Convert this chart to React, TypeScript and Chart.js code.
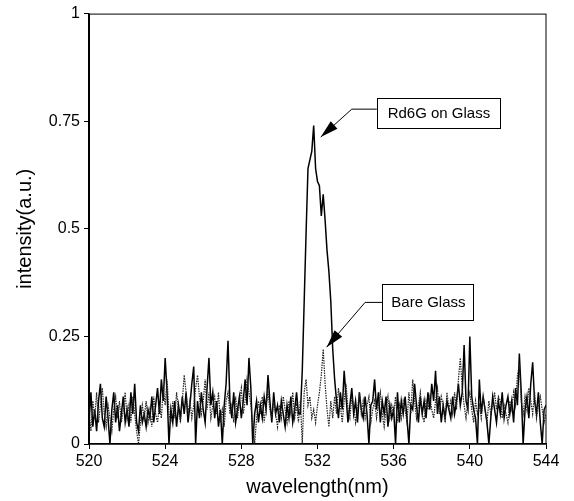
import React, { useEffect, useRef } from "react";
import { Chart, registerables } from "chart.js";

Chart.register(...registerables);

// Sampling grid of the spectra (nm)
const WL_START = 520;
const WL_STEP = 0.1;

// Rd6G on glass (solid trace), 520.0 .. 544.0 nm
const rd6gOnGlass = [
  0.05, 0.12, 0.04, 0.08, 0.03, 0.10, 0.14, 0.06, 0.04, 0.11,
  0.06, 0.00, 0.08, 0.12, 0.05, 0.09, 0.03, 0.07, 0.11, 0.05,
  0.08, 0.04, 0.12, 0.07, 0.14, 0.05, 0.03, 0.09, 0.05, 0.07,
  0.04, 0.08, 0.06, 0.11, 0.05, 0.09, 0.13, 0.07, 0.15, 0.10,
  0.20, 0.12, 0.00, 0.08, 0.05, 0.10, 0.04, 0.09, 0.06, 0.11,
  0.07, 0.12, 0.05, 0.09, 0.14, 0.18, 0.00, 0.10, 0.06, 0.12,
  0.08, 0.05, 0.13, 0.20, 0.09, 0.12, 0.06, 0.10, 0.04, 0.08,
  0.00, 0.09, 0.14, 0.24, 0.10, 0.06, 0.12, 0.05, 0.08, 0.11,
  0.06, 0.10, 0.15, 0.09, 0.20, 0.13, 0.00, 0.07, 0.10, 0.05,
  0.09, 0.06, 0.11, 0.08, 0.16, 0.10, 0.05, 0.12, 0.07, 0.09,
  0.05, 0.10, 0.07, 0.04, 0.09, 0.06, 0.11, 0.05, 0.08, 0.12,
  0.07, 0.07, 0.17, 0.33, 0.49, 0.64, 0.66, 0.68, 0.74, 0.64,
  0.61, 0.60, 0.53, 0.58, 0.52, 0.45, 0.40, 0.33, 0.22, 0.15,
  0.10, 0.06, 0.12, 0.08, 0.17, 0.11, 0.05, 0.09, 0.13, 0.07,
  0.10, 0.05, 0.12, 0.08, 0.06, 0.11, 0.07, 0.00, 0.09, 0.10,
  0.15, 0.08, 0.12, 0.05, 0.10, 0.07, 0.11, 0.04, 0.09, 0.06,
  0.08, 0.00, 0.12, 0.05, 0.10, 0.07, 0.11, 0.06, 0.00, 0.09,
  0.08, 0.14, 0.09, 0.05, 0.11, 0.07, 0.10, 0.06, 0.12, 0.08,
  0.14, 0.10, 0.17, 0.07, 0.11, 0.05, 0.09, 0.06, 0.10, 0.08,
  0.06, 0.11, 0.07, 0.10, 0.14, 0.09, 0.12, 0.23, 0.10, 0.08,
  0.25, 0.11, 0.08, 0.06, 0.00, 0.15, 0.07, 0.11, 0.08, 0.05,
  0.00, 0.06, 0.11, 0.08, 0.05, 0.10, 0.07, 0.12, 0.06, 0.09,
  0.11, 0.07, 0.10, 0.05, 0.13, 0.09, 0.21, 0.12, 0.00, 0.08,
  0.11, 0.06, 0.14, 0.19, 0.10, 0.07, 0.12, 0.05, 0.00, 0.08,
  0.09,
];

// Bare glass (dotted trace), 520.0 .. 544.0 nm
const bareGlass = [
  0.08, 0.03, 0.10, 0.06, 0.12, 0.05, 0.09, 0.13, 0.07, 0.04,
  0.09, 0.06, 0.03, 0.08, 0.11, 0.06, 0.10, 0.05, 0.08, 0.12,
  0.06, 0.09, 0.05, 0.11, 0.07, 0.03, 0.00, 0.05, 0.09, 0.06,
  0.10, 0.05, 0.08, 0.04, 0.11, 0.07, 0.05, 0.09, 0.06, 0.13,
  0.09, 0.15, 0.07, 0.05, 0.10, 0.06, 0.12, 0.08, 0.05, 0.10,
  0.16, 0.12, 0.07, 0.10, 0.06, 0.09, 0.13, 0.16, 0.11, 0.07,
  0.10, 0.15, 0.08, 0.12, 0.06, 0.09, 0.11, 0.07, 0.12, 0.05,
  0.08, 0.04, 0.10, 0.12, 0.07, 0.09, 0.05, 0.11, 0.06, 0.10,
  0.13, 0.07, 0.10, 0.15, 0.12, 0.09, 0.05, 0.00, 0.06, 0.10,
  0.07, 0.11, 0.05, 0.09, 0.12, 0.08, 0.06, 0.10, 0.07, 0.04,
  0.09, 0.06, 0.11, 0.08, 0.05, 0.10, 0.07, 0.12, 0.06, 0.09,
  0.05, 0.10, 0.00, 0.12, 0.15, 0.09, 0.11, 0.06, 0.08, 0.05,
  0.09, 0.12, 0.16, 0.22, 0.14, 0.08, 0.04, 0.10, 0.06, 0.11,
  0.07, 0.13, 0.09, 0.05, 0.10, 0.14, 0.08, 0.06, 0.11, 0.09,
  0.05, 0.08, 0.12, 0.07, 0.10, 0.06, 0.09, 0.11, 0.05, 0.08,
  0.10, 0.06, 0.09, 0.12, 0.07, 0.04, 0.08, 0.11, 0.06, 0.09,
  0.07, 0.11, 0.05, 0.09, 0.06, 0.10, 0.08, 0.05, 0.12, 0.07,
  0.15, 0.10, 0.06, 0.09, 0.12, 0.07, 0.05, 0.10, 0.08, 0.11,
  0.08, 0.06, 0.10, 0.13, 0.07, 0.11, 0.09, 0.05, 0.12, 0.08,
  0.10, 0.07, 0.12, 0.08, 0.15, 0.20, 0.13, 0.09, 0.06, 0.10,
  0.12, 0.08, 0.05, 0.10, 0.07, 0.09, 0.06, 0.11, 0.08, 0.05,
  0.10, 0.07, 0.09, 0.12, 0.08, 0.11, 0.10, 0.06, 0.09, 0.07,
  0.05, 0.10, 0.08, 0.12, 0.09, 0.16, 0.18, 0.10, 0.07, 0.11,
  0.08, 0.13, 0.10, 0.07, 0.12, 0.06, 0.09, 0.11, 0.08, 0.05,
  0.07,
];

const xTicks = [520, 524, 528, 532, 536, 540, 544];
const yTicks = [0, 0.25, 0.5, 0.75, 1];
const xTitle = "wavelength(nm)";
const yTitle = "intensity(a.u.)";

// Callouts: arrow tip, elbow of the leader line and box centre, in data units
const callouts = [
  { label: "Rd6G on Glass", tip: [532.17, 0.713], elbow: [533.8, 0.778], box: [538.35, 0.769], w: 123, h: 30 },
  { label: "Bare Glass", tip: [532.48, 0.225], elbow: [534.5, 0.329], box: [537.8, 0.331], w: 91, h: 36 },
];

const FONT = "'Liberation Sans', Arial, Helvetica, sans-serif";

const toPoints = (vals: number[]) =>
  vals.map((v, i) => ({ x: +(WL_START + i * WL_STEP).toFixed(2), y: v }));

const decorPlugin = {
  id: "decor",
  afterDraw(chart: any) {
    const { ctx, chartArea: ca } = chart;
    const xs = chart.scales.x;
    const ys = chart.scales.y;
    ctx.save();
    // frame
    ctx.strokeStyle = "#000";
    ctx.lineWidth = 1;
    ctx.strokeRect(ca.left + 0.5, ca.top + 0.5, ca.right - ca.left - 0.5, ca.bottom - ca.top - 0.5);

    // axis titles
    ctx.fillStyle = "#000";
    ctx.font = `20px ${FONT}`;
    ctx.textAlign = "center";
    ctx.textBaseline = "middle";
    ctx.fillText(xTitle, (ca.left + ca.right) / 2, ca.bottom + 43);
    ctx.save();
    ctx.translate(25, (ca.top + ca.bottom) / 2);
    ctx.rotate(-Math.PI / 2);
    ctx.fillText(yTitle, 0, 0);
    ctx.restore();

    // callouts
    for (const c of callouts) {
      const tx = xs.getPixelForValue(c.tip[0]);
      const ty = ys.getPixelForValue(c.tip[1]);
      const ex = xs.getPixelForValue(c.elbow[0]);
      const ey = ys.getPixelForValue(c.elbow[1]);
      const bx = xs.getPixelForValue(c.box[0]);
      const by = ys.getPixelForValue(c.box[1]);
      const left = bx - c.w / 2;
      const top = by - c.h / 2;

      ctx.strokeStyle = "#000";
      ctx.lineWidth = 1;
      ctx.beginPath();
      ctx.moveTo(left, ey);
      ctx.lineTo(ex, ey);
      ctx.lineTo(tx, ty);
      ctx.stroke();

      // arrow head
      const ang = Math.atan2(ty - ey, tx - ex);
      const L = 18;
      const W = 5;
      const bxh = tx - L * Math.cos(ang);
      const byh = ty - L * Math.sin(ang);
      ctx.fillStyle = "#000";
      ctx.beginPath();
      ctx.moveTo(tx, ty);
      ctx.lineTo(bxh + W * Math.sin(ang), byh - W * Math.cos(ang));
      ctx.lineTo(bxh - W * Math.sin(ang), byh + W * Math.cos(ang));
      ctx.closePath();
      ctx.fill();

      // box
      ctx.fillStyle = "#fff";
      ctx.fillRect(left, top, c.w, c.h);
      ctx.strokeRect(Math.round(left) + 0.5, Math.round(top) + 0.5, c.w, c.h);
      ctx.fillStyle = "#000";
      ctx.font = `15px ${FONT}`;
      ctx.textAlign = "center";
      ctx.textBaseline = "middle";
      ctx.fillText(c.label, bx + 0.5, by + 1);
    }
    ctx.restore();
  },
};

export default function App() {
  const canvasRef = useRef<HTMLCanvasElement | null>(null);

  useEffect(() => {
    if (!canvasRef.current) return;
    const chart = new Chart(canvasRef.current, {
      type: "line",
      data: {
        datasets: [
          {
            label: "Bare Glass",
            data: toPoints(bareGlass),
            borderColor: "#222",
            borderWidth: 1.2,
            borderDash: [1.5, 1],
            pointRadius: 0,
            tension: 0,
            fill: false,
          },
          {
            label: "Rd6G on Glass",
            data: toPoints(rd6gOnGlass),
            borderColor: "#000",
            borderWidth: 1.5,
            pointRadius: 0,
            tension: 0,
            fill: false,
          },
        ],
      },
      options: {
        responsive: false,
        animation: false,
        events: [],
        layout: { padding: { left: 0, right: 28, top: 12, bottom: 0 } },
        plugins: {
          legend: { display: false },
          tooltip: { enabled: false },
          title: { display: false },
        },
        scales: {
          x: {
            type: "linear",
            min: 520,
            max: 544,
            afterBuildTicks: (s: any) => {
              s.ticks = xTicks.map((v) => ({ value: v }));
            },
            afterFit: (s: any) => {
              s.height = 57;
            },
            grid: {
              drawOnChartArea: false,
              drawTicks: true,
              tickLength: 5,
              tickColor: "#000",
              color: "#000",
            },
            border: { display: true, color: "#000", width: 1.5 },
            ticks: {
              color: "#000",
              font: { family: FONT, size: 16 },
              padding: 3,
              maxRotation: 0,
              autoSkip: false,
              callback: (v: any) => String(v),
            },
          },
          y: {
            type: "linear",
            min: 0,
            max: 1,
            afterBuildTicks: (s: any) => {
              s.ticks = yTicks.map((v) => ({ value: v }));
            },
            afterFit: (s: any) => {
              s.width = 89;
            },
            grid: {
              drawOnChartArea: false,
              drawTicks: true,
              tickLength: 5,
              tickColor: "#000",
              color: "#000",
            },
            border: { display: true, color: "#000", width: 1.5 },
            ticks: {
              color: "#000",
              font: { family: FONT, size: 16 },
              padding: 4,
              autoSkip: false,
              callback: (v: any) => String(v),
            },
          },
        },
      },
      plugins: [decorPlugin],
    } as any);
    return () => chart.destroy();
  }, []);

  return (
    <div style={{ position: "absolute", left: 0, top: 0, width: 574, height: 501, background: "#fff" }}>
      <canvas ref={canvasRef} width={574} height={501} style={{ display: "block" }} />
    </div>
  );
}
